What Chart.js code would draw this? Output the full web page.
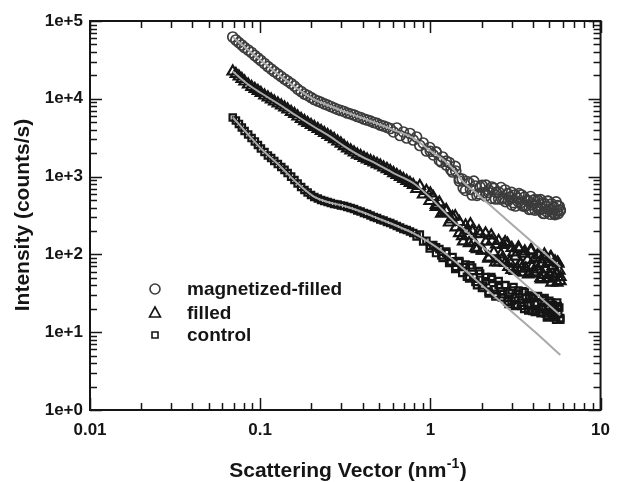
<!DOCTYPE html>
<html>
<head>
<meta charset="utf-8">
<script src="https://cdn.jsdelivr.net/npm/chart.js@4.4.1/dist/chart.umd.min.js"></script>
<style>
html, body { margin: 0; padding: 0; background: #fff; }
canvas { display: block; }
</style>
</head>
<body>
<canvas id="saxs-chart" width="620" height="482"></canvas>
<script>
// scattering vector q (nm^-1), shared by the three measured curves
const qValues = [
    0.069, 0.072, 0.075, 0.078, 0.081, 0.085, 0.089, 0.093, 0.097, 0.101,
    0.106, 0.111, 0.116, 0.121, 0.127, 0.133, 0.139, 0.145, 0.152, 0.159,
    0.166, 0.174, 0.182, 0.19, 0.199, 0.208, 0.218, 0.228, 0.238, 0.249,
    0.26, 0.272, 0.285, 0.298, 0.311, 0.325, 0.34, 0.356, 0.372, 0.389,
    0.407, 0.425, 0.445, 0.465, 0.486, 0.508, 0.531, 0.556, 0.581, 0.607,
    0.635, 0.664, 0.694, 0.726, 0.759, 0.793, 0.83, 0.867, 0.907, 0.948,
    0.991, 1.04, 1.08, 1.13, 1.18, 1.24, 1.29, 1.35, 1.41, 1.48,
    1.54, 1.61, 1.69, 1.76, 1.84, 1.93, 2.01, 2.11, 2.2, 2.3,
    2.41, 2.52, 2.63, 2.75, 2.88, 3.01, 3.14, 3.29, 3.44, 3.59,
    3.76, 3.93, 4.11, 4.29, 4.49, 4.69, 4.9, 5.13, 5.36, 5.6,
    5.8
];

// intensity (counts/s)
const magnetizedFilled = [
    62300, 57000, 52900, 49150, 45630, 42390, 39370, 36020, 33450, 31070,
    28420, 26010, 24150, 22430, 20830, 19340, 17970, 16930, 15730, 14600,
    13360, 12410, 11530, 11030, 10390, 9790, 9370, 8970, 8580, 8320,
    7960, 7620, 7290, 7070, 6870, 6570, 6380, 6190, 5920, 5750,
    5500, 5340, 5180, 4960, 4820, 4600, 4470, 4280, 4150, 3745,
    4213, 3376, 3745, 3134, 3581, 2954, 3228, 2510, 2704, 2134,
    2366, 1896, 2072, 1611, 1786, 1410, 1518, 1146, 1180, 878,
    931, 663, 828, 580, 757, 598, 769, 563, 673, 735,
    515, 634, 515, 673, 500, 432, 580, 472, 580, 413,
    479, 378, 508, 395, 458, 336, 486, 372, 336, 425,
    372
];

const filled = [
    22430, 20830, 19340, 17970, 16690, 15270, 14180, 13370, 12600, 11870,
    11030, 10390, 9790, 9230, 8700, 8200, 7730, 7290, 6770, 6380,
    5920, 5500, 5180, 4890, 4610, 4340, 4090, 3860, 3640, 3430,
    3230, 3040, 2830, 2660, 2470, 2300, 2170, 2040, 1920, 1840,
    1740, 1660, 1590, 1520, 1450, 1390, 1310, 1250, 1180, 1110,
    1050, 989, 932, 878, 828, 780, 693, 757, 589, 653,
    486, 547, 407, 465, 341, 372, 257, 303, 222, 261,
    172, 235, 140, 200, 121, 197, 112, 186, 91.3, 149,
    78.7, 149, 86.0, 144, 68.9, 121, 61.2, 123, 65.9, 109,
    55.2, 112, 56.8, 99.7, 47.6, 86.0, 49.0, 91.3, 50.5, 78.7,
    51.2
];

const control = [
    5750, 5260, 4750, 4280, 3860, 3480, 3130, 2830, 2550, 2300,
    2070, 1870, 1730, 1590, 1450, 1330, 1220, 1110, 1000, 904,
    815, 735, 673, 625, 580, 547, 523, 500, 486, 472,
    458, 445, 438, 425, 419, 407, 395, 383, 367, 356,
    341, 331, 316, 303, 294, 281, 273, 261, 253, 242,
    232, 222, 212, 206, 197, 188, 170, 180, 147, 150,
    119, 132, 104, 117, 89.9, 104, 77.5, 92.6, 68.9, 82.3,
    57.7, 74.2, 49.0, 67.9, 44.2, 61.2, 37.0, 51.2, 31.4, 48.3,
    28.8, 45.5, 27.9, 40.4, 23.0, 34.4, 21.7, 34.4, 21.7, 32.9,
    19.0, 29.2, 18.2, 28.8, 17.9, 27.5, 16.2, 24.1, 15.5, 21.7,
    15.2
];

// the dense, noisy high-q part of the measurements
const qHigh = [
    1.00, 1.08, 1.16, 1.24, 1.32, 1.40, 1.48, 1.56, 1.64, 1.72,
    1.80, 1.88, 1.96, 2.04, 2.12, 2.20, 2.28, 2.36, 2.44, 2.52,
    2.60, 2.68, 2.76, 2.84, 2.92, 3.00, 3.08, 3.16, 3.24, 3.32,
    3.40, 3.48, 3.56, 3.64, 3.72, 3.80, 3.88, 3.96, 4.04, 4.12,
    4.20, 4.28, 4.36, 4.44, 4.52, 4.60, 4.68, 4.76, 4.84, 4.92,
    5.00, 5.08, 5.16, 5.24, 5.32, 5.40, 5.48, 5.56, 5.64, 5.72,
    5.80
];

const magnetizedFilledHigh = [
    2110, 2060, 1540, 1580, 1220, 1350, 943, 712, 865, 687,
    873, 572, 737, 616, 778, 627, 526, 707, 628, 517,
    724, 534, 477, 603, 547, 627, 462, 419, 529, 603,
    463, 420, 542, 425, 494, 380, 555, 433, 493, 371,
    423, 499, 375, 505, 386, 336, 449, 415, 352, 480,
    377, 328, 447, 351, 406, 325, 472, 362, 334, 413,
    365
];

const filledHigh = [
    607, 432, 333, 359, 281, 309, 188, 147, 202, 244,
    145, 117, 182, 112, 146, 88.1, 175, 106, 134, 78.9,
    100, 132, 78.0, 137, 80.6, 63.0, 106, 93.4, 66.7, 117,
    75.5, 58.2, 102, 65.9, 85.0, 57.0, 112, 69.7, 58.9, 89.9,
    70.3, 64.2, 96.5, 49.5, 75.5, 54.7, 99.7, 64.4, 49.2, 79.9,
    55.7, 91.8, 43.5, 70.7, 52.0, 81.3, 56.7, 43.3, 76.0, 61.7,
    45.4
];

const controlHigh = [
    129, 123, 97.1, 109, 81.3, 64.9, 79.2, 68.7, 51.6, 72.4,
    50.9, 40.3, 56.7, 39.8, 45.2, 33.2, 51.2, 35.6, 31.1, 40.4,
    33.5, 30.8, 40.1, 24.7, 32.2, 25.3, 38.1, 27.6, 22.6, 31.0,
    24.0, 33.5, 19.9, 27.7, 22.0, 29.5, 22.8, 18.7, 27.4, 23.7,
    18.8, 29.2, 19.8, 17.5, 23.8, 21.1, 25.7, 17.4, 15.5, 21.0,
    25.3, 18.1, 16.0, 22.3, 16.6, 20.3, 14.5, 24.1, 17.2, 20.8,
    14.5
];

// model fits (grey lines)
const fitQ = [0.069, 0.085, 0.101, 0.127, 0.166, 0.208, 0.249, 0.311, 0.389, 0.486,
              0.607, 0.793, 0.991, 1.18, 1.41, 1.54, 1.84, 2.3, 3.01, 4.11, 5.8];
const fitMagnetizedFilled = [62300, 42400, 31070, 20830, 13360, 9790, 8320, 6870, 5750, 4820,
                             3970, 3130, 2170, 1680, 1146, 878, 627, 409, 244, 134, 69.1];
const fitFilled = [22430, 15270, 11870, 8700, 5920, 4340, 3430, 2470, 1840, 1450,
                   1110, 828, 547, 372, 252, 222, 151, 98.3, 58.4, 32.1, 16.5];
const fitControl = [5750, 3480, 2300, 1450, 815, 547, 472, 419, 356, 294,
                    242, 188, 142, 109, 79.9, 67.3, 47.7, 31.0, 18.3, 10.1, 5.09];

const seriesLabels = ["magnetized-filled", "filled", "control"];
const xTickValues = [0.01, 0.1, 1, 10];
const yTickValues = [1, 10, 100, 1000, 10000, 100000];
const xTitle = ["Scattering Vector (nm", "-1", ")"];
const yTitle = "Intensity (counts/s)";

const FONT = 'Arial, "Liberation Sans", Helvetica, sans-serif';
const INK = '#151515';
const CIRCLE_INK = '#3c3c3c';
const FIT_GREY = '#a9a9a9';

function points(xs, ys)
{
    return xs.map((x, i) => ({x: x, y: ys[i]}));
}

function logTicks(min, max)
{
    let out = [];
    for (let d = Math.round(Math.log10(min)); d <= Math.round(Math.log10(max)); d++) {
        for (let m = 1; m <= 9; m++) {
            let v = m * Math.pow(10, d);
            if (v > max * 1.0001) break;
            out.push({v: v, major: m === 1});
        }
    }
    return out;
}

function drawMarker(ctx, style, x, y)
{
    ctx.beginPath();
    if (style === 'circle') {
        ctx.arc(x, y, 5, 0, Math.PI * 2);
    } else if (style === 'triangle') {
        ctx.moveTo(x, y - 6);
        ctx.lineTo(x + 5.5, y + 4);
        ctx.lineTo(x - 5.5, y + 4);
        ctx.closePath();
    } else {
        ctx.rect(x - 3, y - 3, 6, 6);
    }
    ctx.stroke();
}

// frame with inward ticks on all four sides, legend and axis titles
const decorations = {
    id: 'decorations',
    afterDatasetsDraw(chart) {
        const ctx = chart.ctx;
        const a = chart.chartArea;
        const xs = chart.scales.x, ys = chart.scales.y;
        ctx.save();
        ctx.strokeStyle = INK;
        ctx.lineWidth = 2;
        ctx.strokeRect(a.left, a.top, a.right - a.left, a.bottom - a.top);

        ctx.lineWidth = 1.5;
        ctx.beginPath();
        logTicks(xs.min, xs.max).forEach(t => {
            let px = Math.round(xs.getPixelForValue(t.v)) + 0.5;
            let len = t.major ? 12 : 7;
            ctx.moveTo(px, a.bottom); ctx.lineTo(px, a.bottom - len);
            ctx.moveTo(px, a.top); ctx.lineTo(px, a.top + len);
        });
        logTicks(ys.min, ys.max).forEach(t => {
            let py = Math.round(ys.getPixelForValue(t.v)) + 0.5;
            let len = t.major ? 12 : 7;
            ctx.moveTo(a.left, py); ctx.lineTo(a.left + len, py);
            ctx.moveTo(a.right, py); ctx.lineTo(a.right - len, py);
        });
        ctx.stroke();

        // legend
        const styles = ['circle', 'triangle', 'rect'];
        const colors = [CIRCLE_INK, INK, INK];
        const rows = [289, 313, 335];
        ctx.font = 'bold 19px ' + FONT;
        ctx.textBaseline = 'middle';
        ctx.textAlign = 'left';
        seriesLabels.forEach((label, i) => {
            ctx.strokeStyle = colors[i];
            ctx.lineWidth = 1.6;
            drawMarker(ctx, styles[i], 155, rows[i]);
            ctx.fillStyle = INK;
            ctx.fillText(label, 187, rows[i] + 1);
        });

        // y title
        ctx.save();
        ctx.translate(23, 215);
        ctx.rotate(-Math.PI / 2);
        ctx.font = 'bold 21px ' + FONT;
        ctx.textAlign = 'center';
        ctx.textBaseline = 'middle';
        ctx.fillText(yTitle, 0, 0);
        ctx.restore();

        // x title with superscript
        const big = 'bold 21px ' + FONT, small = 'bold 14px ' + FONT;
        ctx.textBaseline = 'alphabetic';
        ctx.font = big;
        let w0 = ctx.measureText(xTitle[0]).width;
        let w2 = ctx.measureText(xTitle[2]).width;
        ctx.font = small;
        let w1 = ctx.measureText(xTitle[1]).width;
        let x0 = 348 - (w0 + w1 + w2 + 1) / 2;
        let base = 477;
        ctx.font = big;
        ctx.fillText(xTitle[0], x0, base);
        ctx.font = small;
        ctx.fillText(xTitle[1], x0 + w0 + 0.5, base - 9);
        ctx.font = big;
        ctx.fillText(xTitle[2], x0 + w0 + w1 + 1, base);
        ctx.restore();
    }
};

function fitDataset(label, values)
{
    return {
        label: label,
        data: points(fitQ, values),
        showLine: true, pointRadius: 0, borderColor: FIT_GREY, borderWidth: 2,
        cubicInterpolationMode: 'monotone', order: 0
    };
}

const tickFont = {family: FONT, size: 17, weight: 'bold'};

new Chart(document.getElementById('saxs-chart'), {
    type: 'scatter',
    data: {
        datasets: [
            fitDataset('fit ' + seriesLabels[0], fitMagnetizedFilled),
            fitDataset('fit ' + seriesLabels[1], fitFilled),
            fitDataset('fit ' + seriesLabels[2], fitControl),
            {
                label: seriesLabels[0],
                data: points(qValues, magnetizedFilled).concat(points(qHigh, magnetizedFilledHigh)),
                pointStyle: 'circle', pointRadius: 5,
                borderColor: CIRCLE_INK, backgroundColor: 'rgba(255,255,255,0)', borderWidth: 1.7,
                order: 1
            },
            {
                label: seriesLabels[1],
                data: points(qValues, filled).concat(points(qHigh, filledHigh)),
                pointStyle: 'triangle', pointRadius: 6,
                borderColor: INK, backgroundColor: 'rgba(255,255,255,0)', borderWidth: 2.2,
                order: 1
            },
            {
                label: seriesLabels[2],
                data: points(qValues, control).concat(points(qHigh, controlHigh)),
                pointStyle: 'rect', pointRadius: 4.5,
                borderColor: INK, backgroundColor: 'rgba(255,255,255,0)', borderWidth: 2.2,
                order: 1
            }
        ]
    },
    options: {
        responsive: false,
        animation: false,
        devicePixelRatio: 1,
        layout: {padding: {top: 21, right: 10, left: 0, bottom: 0}},
        plugins: {
            legend: {display: false},
            tooltip: {enabled: false}
        },
        scales: {
            x: {
                type: 'logarithmic',
                position: 'bottom',
                min: 0.01,
                max: 10,
                grid: {display: false, drawTicks: false},
                border: {display: false},
                afterBuildTicks: (s) => { s.ticks = xTickValues.map(v => ({value: v})); },
                afterFit: (s) => { s.height = 72; },
                ticks: {
                    autoSkip: false, maxRotation: 0, padding: 10,
                    color: INK, font: tickFont,
                    callback: (v) => String(v)
                }
            },
            y: {
                type: 'logarithmic',
                position: 'left',
                min: 1,
                max: 100000,
                grid: {display: false, drawTicks: false},
                border: {display: false},
                afterBuildTicks: (s) => { s.ticks = yTickValues.map(v => ({value: v})); },
                afterFit: (s) => { s.width = 90; },
                ticks: {
                    autoSkip: false, padding: 7,
                    color: INK, font: tickFont,
                    callback: (v) => '1e+' + Math.round(Math.log10(v))
                }
            }
        }
    },
    plugins: [decorations]
});
</script>
</body>
</html>
